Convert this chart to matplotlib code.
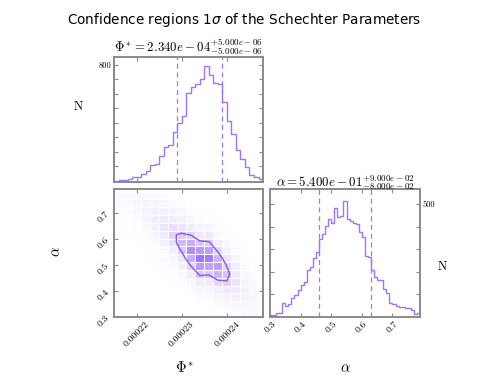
import numpy as np
import matplotlib
matplotlib.use('Agg')
import matplotlib.pyplot as plt
from matplotlib.colors import LinearSegmentedColormap

plt.rcParams['mathtext.fontset'] = 'cm'
plt.rcParams['font.family'] = 'serif'
plt.rcParams['font.serif'] = ['cmr10', 'DejaVu Serif']
plt.rcParams['axes.formatter.use_mathtext'] = True

# Phi* marginal histogram (bin width 1e-6, starting at 2.15e-4)
phi_start, phi_step = 0.000215, 0.000001
phi_counts = [0, 1, 2, 12, 23, 25, 43, 65, 109, 115, 167, 231, 245, 335, 398, 445,
              603, 645, 670, 700, 792, 730, 677, 670, 545, 412, 325, 210, 150, 94,
              36, 25, 8]
phi_best, phi_lo, phi_hi = 0.000234, 0.000005, 0.000005

# alpha marginal histogram (bin width 0.01, starting at 0.30)
alpha_start, alpha_step = 0.30, 0.01
alpha_counts = [9, 9, 19, 19, 60, 48, 57, 86, 96, 118, 140, 154, 210, 219, 259, 286,
                345, 367, 403, 433, 417, 481, 440, 445, 515, 433, 425, 417, 410, 375,
                353, 270, 265, 207, 178, 165, 165, 125, 105, 60, 58, 50, 43, 42, 40,
                38, 30, 13, 19]
alpha_best, alpha_lo, alpha_hi = 0.54, 0.08, 0.09

# joint density, coarse grid: rows from alpha=0.78 (top) down to 0.30
grid_phi_step, grid_alpha_step = 0.000002, 0.03
joint = [
    [10, 12, 13, 12, 10, 7, 4, 2, 0, 0, 0, 0, 0, 0, 0, 0],
    [9, 10, 15, 17, 17, 13, 9, 5, 3, 0, 0, 0, 0, 0, 0, 0],
    [6, 7, 13, 20, 24, 23, 18, 12, 7, 3, 3, 0, 0, 0, 0, 0],
    [4, 4, 9, 17, 28, 32, 30, 23, 15, 8, 7, 2, 0, 0, 0, 0],
    [2, 2, 5, 12, 24, 38, 43, 39, 30, 17, 17, 6, 2, 0, 0, 0],
    [1, 1, 3, 7, 17, 32, 50, 55, 51, 33, 32, 14, 5, 1, 0, 0],
    [0, 0, 1, 4, 10, 23, 43, 65, 72, 57, 55, 28, 11, 3, 1, 0],
    [0, 0, 0, 2, 5, 13, 30, 55, 85, 81, 78, 48, 21, 7, 2, 0],
    [0, 0, 0, 1, 2, 7, 18, 39, 72, 95, 92, 68, 36, 14, 5, 1],
    [0, 0, 0, 0, 1, 3, 9, 23, 51, 81, 78, 80, 51, 24, 9, 3],
    [0, 0, 0, 0, 0, 1, 4, 12, 30, 57, 55, 68, 60, 34, 15, 5],
    [0, 0, 0, 0, 0, 0, 2, 5, 15, 33, 32, 48, 51, 40, 21, 9],
    [0, 0, 0, 0, 0, 0, 0, 2, 7, 17, 17, 28, 36, 34, 25, 13],
    [0, 0, 0, 0, 0, 0, 0, 0, 3, 8, 7, 14, 21, 24, 21, 15],
    [0, 0, 0, 0, 0, 0, 0, 0, 0, 3, 3, 6, 11, 14, 15, 13],
    [0, 0, 0, 0, 0, 0, 0, 0, 0, 0, 0, 2, 5, 7, 9, 9],
]
contour_level = 52

phi_ticks = [0.00022, 0.00023, 0.00024]
phi_ticklabels = ['0.00022', '0.00023', '0.00024']
alpha_ticks = [0.3, 0.4, 0.5, 0.6, 0.7]
alpha_ticklabels = ['0.3', '0.4', '0.5', '0.6', '0.7']

purple = '#a274f7'
spine_col = '#8a8a8a'
phi_lim = (0.000215, 0.000248)
alpha_lim = (0.30, 0.79)


def style(ax):
    for s in ax.spines.values():
        s.set_color(spine_col)
        s.set_linewidth(1.4)
    ax.tick_params(direction='in', top=True, right=True, color=spine_col,
                   length=3, width=0.8, labelsize=7, pad=2)


fig = plt.figure(figsize=(4.91, 3.79), dpi=100)
ax_top = fig.add_axes([0.2322, 0.5198, 0.3035, 0.3298])
ax_2d = fig.add_axes([0.2322, 0.1636, 0.3035, 0.3377])
ax_r = fig.add_axes([0.5499, 0.1636, 0.3055, 0.3377])

# top histogram
phi_edges = phi_start + phi_step * np.arange(len(phi_counts) + 1)
ax_top.stairs(phi_counts, phi_edges, color=purple, lw=1)
for v in (phi_best - phi_lo, phi_best + phi_hi):
    ax_top.axvline(v, color=purple, ls=(0, (4, 3)), lw=0.9)
ax_top.set_xlim(phi_lim)
ax_top.set_ylim(-10, 855)
style(ax_top)
ax_top.set_xticks(phi_ticks)
ax_top.tick_params(labelbottom=False)
ax_top.set_yticks(range(0, 801, 100))
ax_top.set_yticklabels([''] * 8 + ['800'], fontsize=6)
ax_top.set_ylabel('N', rotation=0, fontsize=9)
ax_top.yaxis.set_label_coords(-0.24, 0.55)
ax_top.set_title(r'$\Phi^* = 2.340e-04^{+5.000e-06}_{-5.000e-06}$', fontsize=9.3, pad=2)

# joint panel
cmap = LinearSegmentedColormap.from_list('lav', ['#ffffff', '#eee6ff', '#c4a6ff', '#7d40f0'])
joint_arr = np.array(joint, dtype=float)
nrow, ncol = joint_arr.shape
gx = phi_start + grid_phi_step * np.arange(ncol + 1)
gy = alpha_lim[0] + grid_alpha_step * np.arange(nrow + 1)[::-1]
ax_2d.pcolormesh(gx, gy, joint_arr, cmap=cmap, vmin=0, vmax=115,
                 edgecolors='white', linewidth=0.7)
cx = 0.5 * (gx[:-1] + gx[1:])
cy = 0.5 * (gy[:-1] + gy[1:])
ax_2d.contour(cx, cy, joint_arr, levels=[contour_level], colors=['#8a55e8'], linewidths=1)
ax_2d.set_xlim(phi_lim)
ax_2d.set_ylim(alpha_lim)
style(ax_2d)
ax_2d.set_xticks(phi_ticks)
ax_2d.set_xticklabels(phi_ticklabels, rotation=45)
ax_2d.set_yticks(alpha_ticks)
ax_2d.set_yticklabels(alpha_ticklabels, rotation=45)
ax_2d.set_xlabel(r'$\Phi^*$', fontsize=10.5)
ax_2d.xaxis.set_label_coords(0.477, -0.34)
ax_2d.set_ylabel(r'$\alpha$', fontsize=10.5)
ax_2d.yaxis.set_label_coords(-0.34, 0.51)

# right histogram
alpha_edges = alpha_start + alpha_step * np.arange(len(alpha_counts) + 1)
ax_r.stairs(alpha_counts, alpha_edges, color=purple, lw=1)
for v in (alpha_best - alpha_lo, alpha_best + alpha_hi):
    ax_r.axvline(v, color=purple, ls=(0, (4, 3)), lw=0.9)
ax_r.set_xlim(alpha_lim)
ax_r.set_ylim(0, 566)
style(ax_r)
ax_r.set_xticks(alpha_ticks)
ax_r.set_xticklabels(alpha_ticklabels, rotation=45)
ax_r.set_yticks(range(0, 501, 100))
ax_r.tick_params(labelleft=False, labelright=True)
ax_r.set_yticklabels([''] * 5 + ['500'], fontsize=6)
ax_r.set_xlabel(r'$\alpha$', fontsize=10.5)
ax_r.xaxis.set_label_coords(0.5, -0.35)
ax_r.set_ylabel('N', rotation=0, fontsize=9)
ax_r.yaxis.set_label_position('right')
ax_r.yaxis.set_label_coords(1.147, 0.44)
ax_r.set_title(r'$\alpha = 5.400e-01^{+9.000e-02}_{-8.000e-02}$', fontsize=9.3, pad=2)

fig.text(0.498, 0.947, r'Confidence regions 1$\sigma$ of the Schechter Parameters',
         ha='center', va='center', fontsize=9.8, family='DejaVu Sans',
         math_fontfamily='dejavusans')

fig.savefig('out.png', dpi=100)
